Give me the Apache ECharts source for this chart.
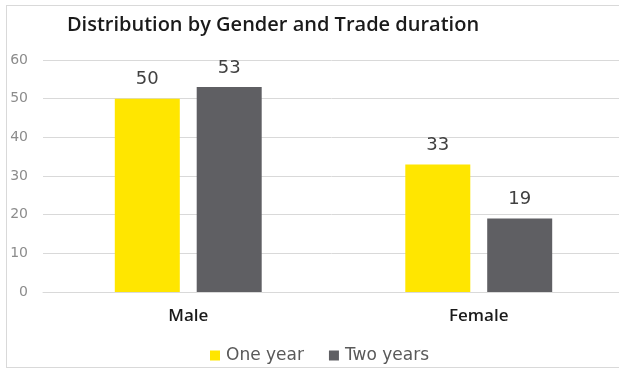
<!DOCTYPE html>
<html>
<head>
<meta charset="utf-8">
<script src="https://cdn.jsdelivr.net/npm/echarts@6/dist/echarts.min.js"></script>
<style>
  html, body { margin: 0; padding: 0; background: #fff; overflow: hidden; width: 619px; height: 370px; }
  #frame { position: absolute; left: 6px; top: 5px; width: 613px; height: 363px; border: 1px solid #d9d9d9; border-right: none; box-sizing: border-box; }
  #chart { position: absolute; left: 0; top: 0; width: 619px; height: 370px; }
</style>
</head>
<body>
<div id="frame"></div>
<div id="chart"></div>
<script>
// Respondents by gender, split by how long they have traded
const categories = ['Male', 'Female'];
const oneYear = [50, 33];
const twoYears = [53, 19];
const yTicks = { min: 0, max: 60, interval: 10 };

const chart = echarts.init(document.getElementById('chart'), null, { renderer: 'canvas' });

const labelStyle = {
  show: true,
  position: 'top',
  distance: 10,
  color: '#404040',
  fontSize: 18,
  fontFamily: 'DejaVu Sans'
};

chart.setOption({
  animation: false,
  title: {
    text: 'Distribution by Gender and Trade duration',
    left: 268,
    textAlign: 'center',
    top: 10,
    textStyle: { fontFamily: 'Open Sans', fontSize: 20, fontWeight: 600, color: '#1a1a1a' }
  },
  legend: {
    top: 347,
    left: 210,
    padding: 0,
    itemWidth: 10,
    itemHeight: 10,
    itemGap: 25,
    icon: 'rect',
    textStyle: { fontFamily: 'DejaVu Sans', fontSize: 17, color: '#595959', padding: [0, 0, 0, 1] },
    data: ['One year', 'Two years']
  },
  grid: { left: 43, width: 581, top: 60, height: 232, containLabel: false, outerBoundsMode: 'none' },
  xAxis: {
    type: 'category',
    data: categories,
    axisLine: { lineStyle: { color: '#d9d9d9' } },
    axisTick: { show: false },
    axisLabel: { color: '#1a1a1a', fontFamily: 'Open Sans', fontSize: 17, fontWeight: 600, margin: 16 }
  },
  yAxis: {
    type: 'value',
    min: yTicks.min,
    max: yTicks.max,
    interval: yTicks.interval,
    axisLine: { show: false },
    axisTick: { show: false },
    splitLine: { lineStyle: { color: '#d9d9d9' } },
    axisLabel: { color: '#8c8c8c', fontFamily: 'DejaVu Sans', fontSize: 14, margin: 15 }
  },
  series: [
    {
      name: 'One year',
      type: 'bar',
      data: oneYear,
      barWidth: 65,
      barGap: '26%',
      itemStyle: { color: '#FFE600' },
      label: labelStyle
    },
    {
      name: 'Two years',
      type: 'bar',
      data: twoYears,
      barWidth: 65,
      itemStyle: { color: '#5f5f63' },
      label: labelStyle
    }
  ]
});
</script>
</body>
</html>
